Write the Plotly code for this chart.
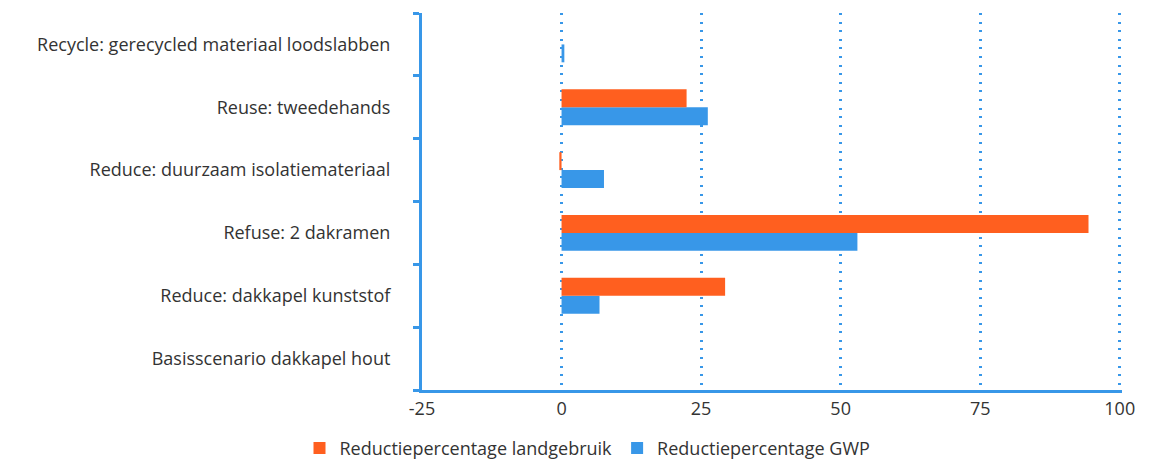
import plotly.graph_objects as go

categories = [
    "Basisscenario dakkapel hout",
    "Reduce: dakkapel kunststof",
    "Refuse: 2 dakramen",
    "Reduce: duurzaam isolatiemateriaal",
    "Reuse: tweedehands",
    "Recycle: gerecycled materiaal loodslabben",
]
landgebruik = [0, 29.3, 94.4, -0.4, 22.4, 0]
gwp = [0, 6.8, 53.0, 7.6, 26.2, 0.5]
x_ticks = [-25, 0, 25, 50, 75, 100]
x_tick_labels = ["-25", "0", "25", "50", "75", "100"]

ORANGE = "#FF5F1F"
BLUE = "#3897E8"

fig = go.Figure()
fig.add_trace(go.Bar(y=categories, x=gwp, orientation="h", name="Reductiepercentage GWP",
                     marker=dict(color=BLUE, line=dict(width=0))))
fig.add_trace(go.Bar(y=categories, x=landgebruik, orientation="h", name="Reductiepercentage landgebruik",
                     marker=dict(color=ORANGE, line=dict(width=0))))

fig.update_layout(
    width=1166, height=460,
    margin=dict(l=414, r=52, t=5, b=78),
    barmode="group", bargap=0.43, bargroupgap=0,
    plot_bgcolor="white", paper_bgcolor="white",
    font=dict(family="Open Sans, sans-serif", size=18, color="#333333"),
    legend=dict(orientation="h", xref="container", yref="container",
                x=0.497, xanchor="center", y=0.043, yanchor="middle",
                traceorder="reversed", font=dict(size=18, color="#333333"),
                itemwidth=30),
    showlegend=True,
)
fig.update_xaxes(range=[-25, 100.4], tickvals=x_ticks, ticktext=x_tick_labels,
                 showgrid=True, gridcolor=BLUE, griddash="2px,6.6px", gridwidth=2.5,
                 showline=True, linecolor=BLUE, linewidth=3, zeroline=False,
                 ticks="", tickfont=dict(size=18, color="#333333"), automargin=False)
fig.update_yaxes(showline=True, linecolor=BLUE, linewidth=3, showgrid=False,
                 ticks="outside", tickson="boundaries", ticklen=6, tickcolor=BLUE, tickwidth=3,
                 ticklabelstandoff=25, tickfont=dict(size=18, color="#333333"), automargin=False)

fig.write_html("out.html")
